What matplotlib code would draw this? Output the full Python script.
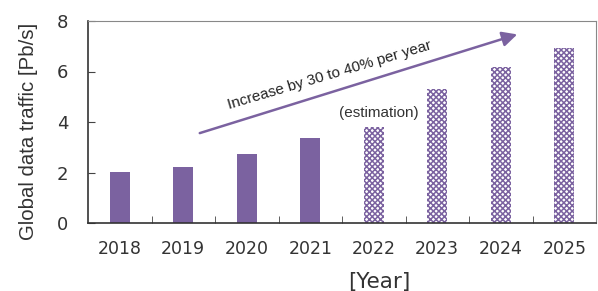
import matplotlib.pyplot as plt
import numpy as np

plt.rcParams['hatch.linewidth'] = 1.1

years = ['2018', '2019', '2020', '2021', '2022', '2023', '2024', '2025']
traffic = [2.03, 2.22, 2.72, 3.35, 3.80, 5.30, 6.18, 6.94]
estimated = [False, False, False, False, True, True, True, True]
yticks = [0, 2, 4, 6, 8]

purple = '#7b62a0'

fig = plt.figure(figsize=(5.98, 2.91), dpi=100)
ax = fig.add_axes([88 / 598, 1 - 223 / 291, 508 / 598, 202 / 291])

x = np.arange(len(years))
for xi, v, est in zip(x, traffic, estimated):
    if est:
        ax.bar(xi, v, width=0.31, color='white', edgecolor=purple,
               hatch='xxxxxx', linewidth=0)
    else:
        ax.bar(xi, v, width=0.31, color=purple, linewidth=0)

ax.set_xlim(-0.5, len(years) - 0.5)
ax.set_ylim(0, 8)
ax.set_yticks(yticks)
ax.set_yticklabels([str(t) for t in yticks], fontsize=13)
ax.set_xticks(x)
ax.set_xticklabels(years, fontsize=12.5, color='#333333')
ax.set_xticks(x[:-1] + 0.5, minor=True)
ax.tick_params(axis='x', which='major', length=0, pad=12)
ax.tick_params(axis='x', which='minor', direction='in', length=5, color='#444444')
ax.tick_params(axis='y', direction='in', length=5, pad=14, color='#444444', labelcolor='#333333')
for s in ax.spines.values():
    s.set_color('#888888')
ax.spines['left'].set_color('#333333')
ax.spines['bottom'].set_color('#333333')
ax.spines['left'].set_linewidth(1.2)
ax.spines['bottom'].set_linewidth(1.2)

ax.set_ylabel('Global data traffic [Pb/s]', family='Liberation Sans', fontsize=14.7,
              color='#333333', va='center')
ax.yaxis.set_label_coords((28 - 88) / 508, (223 - 131) / 202)
ax.set_xlabel('[Year]', fontsize=15.5, color='#333333', va='center')
ax.xaxis.set_label_coords((379 - 88) / 508, -0.29)

ax.annotate('', xy=(6.26, 7.47), xytext=(1.26, 3.56),
            arrowprops=dict(arrowstyle='-|>,head_length=0.9,head_width=0.45',
                            color=purple, lw=1.8, shrinkA=0, shrinkB=0))
ax.text(3.31, 5.85, 'Increase by 30 to 40% per year', family='Liberation Sans',
        fontsize=11, rotation=16.5, ha='center', va='center', color='#222222',
        rotation_mode='anchor')
ax.text(4.08, 4.36, '(estimation)', family='Liberation Sans', fontsize=11,
        ha='center', va='center', color='#333333')

plt.savefig('out.png', dpi=100)
